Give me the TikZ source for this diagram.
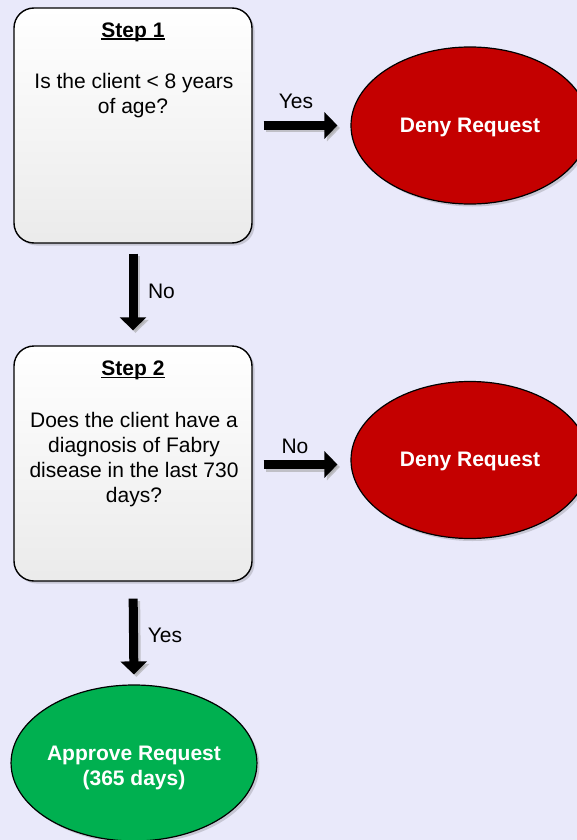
\documentclass[tikz,border=0pt]{standalone}
\usepackage{fontspec}
\setmainfont{Liberation Sans}
\usetikzlibrary{shapes.geometric,arrows.meta,shadows}
\definecolor{bgc}{RGB}{233,233,250}
\definecolor{denyred}{RGB}{196,0,0}
\definecolor{okgreen}{RGB}{0,176,80}
\newcommand\myul[1]{\setbox0\hbox{#1}\rlap{\raisebox{-2.8pt}{\rule{\wd0}{1.6pt}}}\box0}
\begin{document}
\begin{tikzpicture}[x=1pt,y=-1pt,
  every node/.style={font=\fontsize{21}{25}\selectfont},
  stepbox/.style={draw=black, line width=1.4pt, rounded corners=20pt,
    minimum width=238pt, minimum height=235pt, inner sep=0pt,
    top color=white, bottom color=black!8,
    drop shadow={shadow xshift=2.5pt, shadow yshift=-2.5pt, opacity=0.22, fill=black!70}},
  txt/.style={inner sep=0pt, anchor=base, text=black},
  endnode/.style={ellipse, draw=black, line width=1.2pt, inner sep=0pt,
    text=white, font=\fontsize{21}{25}\selectfont\bfseries, align=center,
    drop shadow={shadow xshift=2.5pt, shadow yshift=-2.5pt, opacity=0.22, fill=black!70}},
  deny/.style={endnode, fill=denyred, minimum width=238pt, minimum height=157pt,
    text height=13pt, text depth=0pt},
  approve/.style={endnode, fill=okgreen, minimum width=238pt, minimum height=156pt,
    text height=44pt, text depth=0pt},
  bigarrow/.style={line width=9pt, -{Triangle[length=13pt,width=26pt]}, draw=black},
  arrowshadow/.style={bigarrow, draw=black!35, opacity=0.6}
]
\fill[bgc] (0,0) rectangle (577,840);
\clip (0,0) rectangle (577,840);

% step boxes
\node[stepbox] (s1) at (133,125.5) {};
\node[stepbox] (s2) at (133,463.5) {};

% step 1 text
\node[txt] (t1) at (133,37.3) {\bfseries\myul{Step 1}};
\node[txt] (q1a) at (134,89) {Is the client < 8 years};
\node[txt] (q1b) at (133,113.5) {of age?};

% step 2 text
\node[txt] (t2) at (133,375.3) {\bfseries\myul{Step 2}};
\node[txt] (q2a) at (134,427) {Does the client have a};
\node[txt] (q2b) at (134,452) {diagnosis of Fabry};
\node[txt] (q2c) at (134,477) {disease in the last 730};
\node[txt] (q2d) at (134,502) {days?};

% outcome ellipses
\node[deny] (d1) at (470,125.5) {Deny Request};
\node[deny] (d2) at (470,460) {Deny Request};
\node[approve] (ap) at (134,763) {Approve Request\\(365 days)};

% arrow shadows
\begin{scope}[transform canvas={shift={(2.5pt,-2.5pt)}}]
\draw[arrowshadow, shorten <=10pt, shorten >=15pt] (s1.south) -- (s2.north);
\draw[arrowshadow, shorten <=17pt, shorten >=10pt] (s2.south) -- (ap.north);
\draw[arrowshadow, shorten <=11pt, shorten >=13pt] (s1.east) -- (s1.east -| d1.west);
\draw[arrowshadow, shorten <=11pt, shorten >=13pt] ([yshift=-1pt]s2.east) -- ([yshift=-1pt]s2.east -| d2.west);
\end{scope}

% arrows
\draw[bigarrow, shorten <=10pt, shorten >=15pt] (s1.south) -- (s2.north);
\draw[bigarrow, shorten <=17pt, shorten >=10pt] (s2.south) -- (ap.north);
\draw[bigarrow, shorten <=11pt, shorten >=13pt] (s1.east) -- (s1.east -| d1.west);
\draw[bigarrow, shorten <=11pt, shorten >=13pt] ([yshift=-1pt]s2.east) -- ([yshift=-1pt]s2.east -| d2.west);

% arrow labels
\node[txt] (l1) at (296,109) {Yes};
\node[txt] (l2) at (161.5,298) {No};
\node[txt] (l3) at (295,453) {No};
\node[txt] (l4) at (165,642) {Yes};
\end{tikzpicture}
\end{document}
